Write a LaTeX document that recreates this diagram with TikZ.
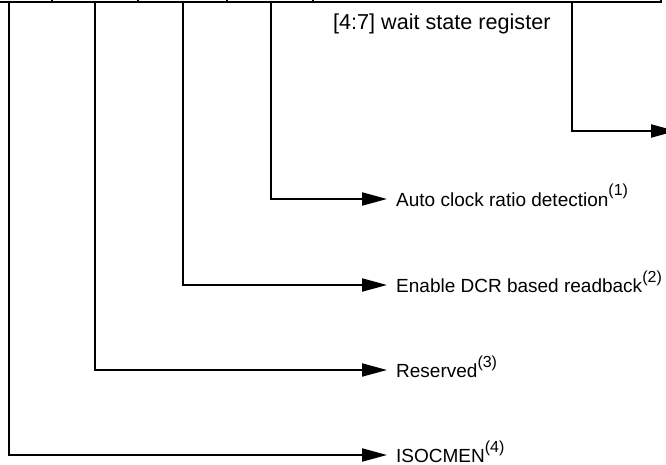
\documentclass[tikz,border=0pt]{standalone}
\usepackage{fontspec}
\setmainfont{Liberation Sans}
\usetikzlibrary{arrows.meta}

\newcommand{\fnref}[1]{\raisebox{10pt}{\fontsize{16}{18}\selectfont(#1)}}

\begin{document}
\begin{tikzpicture}[x=1pt, y=-1pt,
    reg/.style={line width=2pt},
    arrow/.style={-{Triangle[length=25pt, width=13pt]}, line width=2pt},
    lbl/.style={anchor=west, inner xsep=9pt, inner ysep=0pt, text height=14pt, text depth=0pt, font=\fontsize{19}{22}\selectfont},
    title/.style={anchor=base west, inner sep=0pt, font=\fontsize{21.6}{26}\selectfont}
  ]
    \useasboundingbox (0,0) rectangle (666,465);

    % register edge (cut off at the top)
    \draw[reg] (-20,2) -- (661,2) -- (661,-20);
    \foreach \x in {52,138,227,313}
        \draw[reg] (\x,2) -- (\x,-20);

    \coordinate (bit0) at (8.5,2);
    \coordinate (bit1) at (95,2);
    \coordinate (bit2) at (183,2);
    \coordinate (bit3) at (271,2);
    \coordinate (bitw) at (572,2);
    \coordinate (wout) at (676,131);

    \node[title] (wsr) at (333,30) {[4:7] wait state register};

    \node[lbl] (acr)  at (387,199) {Auto clock ratio detection\fnref{1}};
    \node[lbl] (dcr)  at (387,285) {Enable DCR based readback\fnref{2}};
    \node[lbl] (rsv)  at (387,370) {Reserved\fnref{3}};
    \node[lbl] (isoc) at (387,455) {ISOCMEN\fnref{4}};

    \draw[arrow] (bitw) |- (wout);
    \draw[arrow] (bit3) |- (acr.west);
    \draw[arrow] (bit2) |- (dcr.west);
    \draw[arrow] (bit1) |- (rsv.west);
    \draw[arrow] (bit0) |- (isoc.west);
\end{tikzpicture}
\end{document}
